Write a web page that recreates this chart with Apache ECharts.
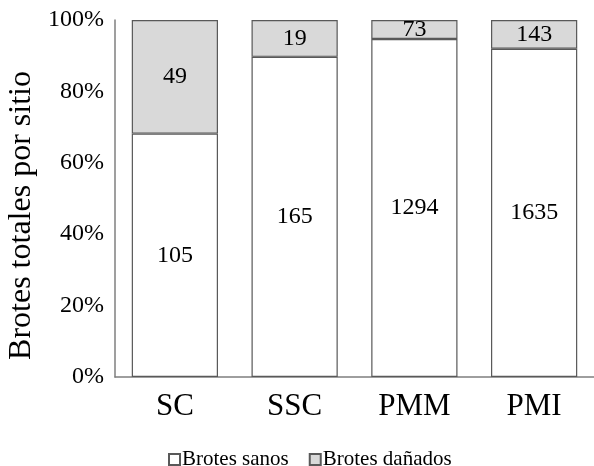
<!DOCTYPE html>
<html><head><meta charset="utf-8">
<script src="https://cdn.jsdelivr.net/npm/echarts@6/dist/echarts.min.js"></script>
<style>html,body{margin:0;padding:0;background:#fff}#c{width:594px;height:466px}</style>
</head><body><div id="c"></div>
<script>
const categories = ['SC', 'SSC', 'PMM', 'PMI'];
const sanos = [105, 165, 1294, 1635];
const danados = [49, 19, 73, 143];
const yTicks = ['0%', '20%', '40%', '60%', '80%', '100%'];

const totals = categories.map((_, i) => sanos[i] + danados[i]);
const pct = (arr) => arr.map((v, i) => ({ value: v / totals[i] * 100, count: v }));
const F = '"Liberation Serif", "Times New Roman", serif';

const chart = echarts.init(document.getElementById('c'));
chart.setOption({
  animation: false,
  textStyle: { fontFamily: F },
  grid: { left: 115, right: 0, top: 20, bottom: 89, containLabel: false, outerBoundsMode: 'none' },
  legend: {
    top: 444, left: 163,
    itemWidth: 11, itemHeight: 11, itemGap: 20,
    icon: 'rect',
    textStyle: { fontFamily: F, fontSize: 21, color: '#000', padding: [0, 0, 0, -3] },
    data: ['Brotes sanos', 'Brotes dañados']
  },
  xAxis: {
    type: 'category', data: categories,
    axisLine: { lineStyle: { color: '#7f7f7f', width: 1.5 } },
    axisTick: { show: false },
    axisLabel: { fontFamily: F, fontSize: 31, color: '#000', margin: 14 }
  },
  yAxis: {
    type: 'value', min: 0, max: 100, interval: 20,
    name: 'Brotes totales por sitio', nameLocation: 'middle', nameGap: 74,
    nameTextStyle: { fontFamily: F, fontSize: 32, color: '#000', padding: [0, 34, 0, 0] },
    axisLine: { show: true, lineStyle: { color: '#7f7f7f', width: 1.5 } },
    axisTick: { show: false },
    splitLine: { show: false },
    axisLabel: { fontFamily: F, fontSize: 24, color: '#000', margin: 11,
      formatter: (v) => yTicks[Math.round(v / 20)] }
  },
  series: [
    {
      name: 'Brotes sanos', type: 'bar', stack: 'a', barCategoryGap: '28%',
      data: pct(sanos),
      itemStyle: { color: '#ffffff', borderColor: '#595959', borderWidth: 1.2 },
      label: { show: true, position: 'inside', fontFamily: F, fontSize: 24, color: '#000',
        formatter: (p) => p.data.count }
    },
    {
      name: 'Brotes dañados', type: 'bar', stack: 'a', barCategoryGap: '28%',
      data: pct(danados),
      itemStyle: { color: '#d9d9d9', borderColor: '#595959', borderWidth: 1.2 },
      label: { show: true, position: 'inside', fontFamily: F, fontSize: 24, color: '#000',
        formatter: (p) => p.data.count }
    }
  ]
});
</script></body></html>
